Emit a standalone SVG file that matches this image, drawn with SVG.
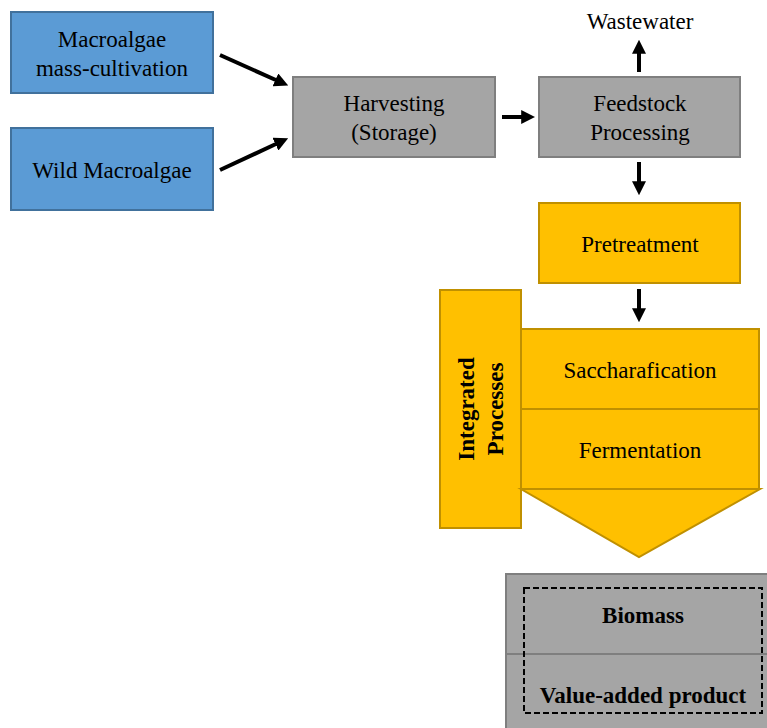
<svg xmlns="http://www.w3.org/2000/svg" width="767" height="728" viewBox="0 0 767 728">
<style>
text{font-family:"Liberation Serif","Times New Roman",serif;font-size:23px;fill:#000;text-anchor:middle}
.b{font-weight:bold}
.blue{fill:#5B9BD5;stroke:#41719C;stroke-width:2}
.gray{fill:#A5A5A5;stroke:#7F7F7F;stroke-width:2}
.yel{fill:#FFC000;stroke:#C09000;stroke-width:2}
.arr{stroke:#000;stroke-width:4;fill:none;marker-end:url(#ah)}
</style>
<defs>
<marker id="ah" viewBox="0 0 10 10" refX="2" refY="5" markerWidth="3.5" markerHeight="3.5" orient="auto" markerUnits="strokeWidth">
<path d="M0,0 L10,5 L0,10 z" fill="#000"/>
</marker>
</defs>
<g id="cultivation"><rect class="blue" x="11" y="12" width="202" height="81"/><text x="112" y="47">Macroalgae</text><text x="112" y="76">mass-cultivation</text></g>
<g id="wild"><rect class="blue" x="11" y="128" width="202" height="82"/><text x="112" y="178">Wild Macroalgae</text></g>
<g id="harvesting"><rect class="gray" x="293" y="77" width="202" height="80"/><text x="394" y="111">Harvesting</text><text x="394" y="140">(Storage)</text></g>
<g id="feedstock"><rect class="gray" x="539" y="77" width="201" height="80"/><text x="640" y="111">Feedstock</text><text x="640" y="140">Processing</text></g>
<g id="wastewater"><text x="640" y="29">Wastewater</text></g>
<g id="pretreatment"><rect class="yel" x="539" y="203" width="201" height="80"/><text x="640" y="252">Pretreatment</text></g>
<g id="integrated"><rect class="yel" x="440" y="290" width="81" height="238"/><text class="b" transform="translate(474,409) rotate(-90)">Integrated</text><text class="b" transform="translate(503,409) rotate(-90)">Processes</text></g>
<g id="saccharification"><rect class="yel" x="521" y="329" width="238" height="80"/><text x="640" y="378">Saccharafication</text></g>
<g id="fermentation"><rect class="yel" x="521" y="409" width="238" height="80"/><path class="yel" d="M521,489 L760,489 L639,557 Z"/><text x="640" y="458">Fermentation</text></g>
<g id="product"><rect class="gray" x="506" y="574" width="270" height="170"/><line x1="506" y1="654" x2="767" y2="654" stroke="#7F7F7F" stroke-width="2"/><rect x="524" y="588" width="238" height="125" fill="none" stroke="#000" stroke-width="2" stroke-dasharray="6,3"/><text class="b" x="643" y="623">Biomass</text><text class="b" x="643" y="703">Value-added product</text></g>
<g id="connectors">
<line class="arr" x1="220" y1="55" x2="278" y2="81"/>
<line class="arr" x1="220" y1="170" x2="278" y2="143"/>
<line class="arr" x1="502" y1="117" x2="524" y2="117"/>
<line class="arr" x1="639" y1="72" x2="639" y2="51"/>
<line class="arr" x1="639" y1="162" x2="639" y2="184"/>
<line class="arr" x1="639" y1="289" x2="639" y2="311"/>
</g>
</svg>
